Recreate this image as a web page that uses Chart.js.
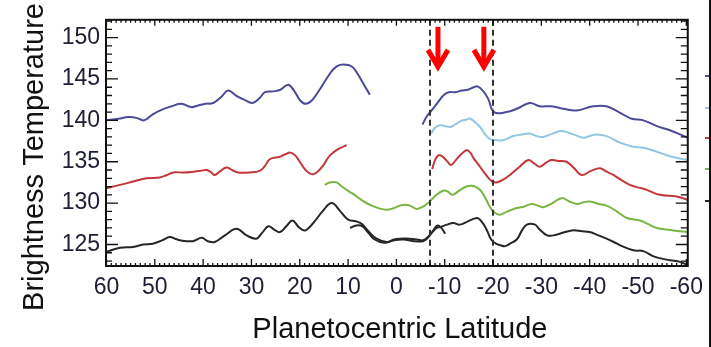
<!DOCTYPE html>
<html><head><meta charset="utf-8">
<script src="https://cdn.jsdelivr.net/npm/chart.js@4/dist/chart.umd.min.js"></script>
<style>html,body{margin:0;padding:0;background:#fff;overflow:hidden}canvas{display:block}</style>
</head><body>
<canvas id="c" width="711" height="347"></canvas>
<script>
// ---- tick labels / axis text ----
const xTickLabels = [60,50,40,30,20,10,0,-10,-20,-30,-40,-50,-60];
const yTickLabels = [125,130,135,140,145,150];
const xTitle = 'Planetocentric Latitude';
const yTitle = 'Brightness Temperature';
const markedLatitudes = [-7,-20];
const arrowLatitudes = [-8.6,-18.1];

// ---- series: [latitude, brightness temperature K] ----
const blueNorth = [[60.1,140.0],[57.5,140.2],[55.5,140.4],[53.8,140.3],[52.2,140.0],[50.5,140.7],[48.5,141.3],[46.5,141.7],[44.5,142.0],[42.5,141.6],[41.0,141.8],[39.5,142.0],[37.9,142.1],[36.3,142.8],[34.8,143.6],[33.2,143.0],[31.5,142.5],[29.8,142.1],[28.3,142.7],[27.2,143.4],[25.5,143.5],[24.0,143.7],[22.4,144.3],[21.2,143.6],[19.9,142.4],[18.8,142.0],[17.5,142.4],[16.0,143.6],[14.5,145.0],[13.0,146.2],[11.7,146.7],[10.0,146.7],[9.0,146.4],[8.0,145.6],[7.0,144.6],[6.0,143.6],[5.5,143.1]];
const blueSouth = [[-5.4,139.5],[-6.3,140.5],[-7.3,141.2],[-8.5,142.1],[-9.7,143.0],[-10.8,143.4],[-12.2,143.4],[-13.5,143.6],[-14.8,143.7],[-16.0,144.0],[-16.8,144.1],[-18.0,143.5],[-19.0,142.6],[-20.2,141.0],[-22.8,141.0],[-24.9,141.4],[-27.6,142.1],[-29.7,141.7],[-32.1,141.7],[-34.5,141.4],[-37.3,141.2],[-40.7,141.7],[-43.5,141.7],[-46.3,140.9],[-48.7,140.2],[-51.1,140.0],[-53.9,139.3],[-56.6,138.8],[-60.3,137.9]];
const lightBlue = [[-7.2,138.4],[-8.0,139.1],[-9.0,139.4],[-10.2,139.3],[-11.1,139.2],[-12.2,139.5],[-13.3,139.9],[-14.5,140.1],[-15.3,140.2],[-16.2,139.8],[-17.3,139.2],[-18.5,138.2],[-19.5,137.7],[-20.7,137.6],[-22.1,137.6],[-24.2,138.1],[-26.0,138.3],[-27.6,138.4],[-29.0,138.1],[-30.4,138.0],[-32.3,138.4],[-34.2,138.7],[-36.6,138.3],[-38.7,137.9],[-40.0,138.1],[-41.4,138.3],[-43.5,138.1],[-46.3,137.3],[-49.0,136.8],[-51.1,136.7],[-53.9,136.2],[-57.0,135.6],[-60.3,135.2]];
const redNorth = [[60.1,131.8],[57.2,132.2],[54.5,132.6],[51.7,133.0],[49.0,133.1],[47.5,133.4],[46.2,133.7],[44.1,133.7],[42.0,133.8],[40.5,133.9],[39.3,134.0],[38.3,133.7],[37.6,133.4],[36.6,133.8],[35.2,134.3],[34.0,134.0],[32.8,133.7],[30.3,133.7],[28.3,133.9],[27.2,134.5],[26.2,135.3],[24.1,135.6],[23.0,135.9],[22.0,136.1],[21.0,135.8],[20.0,135.0],[18.8,134.0],[17.6,133.5],[16.5,133.7],[15.2,134.5],[14.0,135.6],[13.1,136.1],[11.8,136.6],[10.3,137.0]];
const redSouth = [[-7.4,134.1],[-8.0,135.2],[-8.8,135.8],[-9.8,135.5],[-10.6,135.0],[-11.3,134.6],[-12.3,135.2],[-13.4,135.9],[-14.5,136.4],[-15.3,136.1],[-16.0,135.4],[-16.8,134.8],[-17.8,134.0],[-18.7,133.3],[-19.6,132.7],[-20.7,132.5],[-22.0,132.8],[-23.5,133.4],[-25.5,134.4],[-27.3,135.2],[-28.5,134.8],[-29.7,134.4],[-31.0,134.9],[-32.1,135.2],[-33.5,135.1],[-35.2,135.0],[-36.8,134.2],[-38.3,133.4],[-40.3,133.9],[-42.1,134.2],[-43.5,133.8],[-44.9,133.4],[-46.5,132.8],[-48.3,132.2],[-50.0,131.9],[-51.8,131.6],[-54.5,131.0],[-58.0,130.8],[-60.3,130.4]];
const green = [[14.8,132.2],[13.8,132.5],[12.4,132.5],[11.3,132.0],[10.3,131.6],[9.2,131.2],[8.2,130.8],[6.8,130.2],[5.5,129.8],[3.8,129.4],[2.0,129.2],[0.5,129.4],[-0.7,129.7],[-1.8,129.8],[-2.8,129.7],[-4.2,129.3],[-5.6,129.6],[-6.9,130.2],[-8.3,131.0],[-9.7,131.5],[-10.6,131.4],[-11.6,131.0],[-13.0,131.5],[-14.5,132.0],[-15.6,132.1],[-16.6,131.9],[-17.6,131.4],[-18.5,130.5],[-19.4,129.5],[-20.2,128.9],[-21.4,128.6],[-23.0,129.0],[-24.9,129.4],[-26.5,129.6],[-28.0,129.9],[-29.3,129.7],[-30.4,129.5],[-32.3,130.0],[-34.2,130.6],[-35.8,130.2],[-37.3,129.9],[-38.8,130.1],[-40.1,130.2],[-41.8,129.9],[-43.5,129.7],[-45.6,129.0],[-47.7,128.2],[-50.4,127.9],[-52.0,127.5],[-53.9,127.0],[-57.3,126.7],[-60.3,126.5]];
const blackMain = [[60.1,124.1],[57.2,124.6],[54.5,124.7],[52.4,125.0],[50.4,125.1],[48.5,125.5],[46.9,125.9],[45.8,125.7],[44.8,125.5],[42.1,125.4],[40.3,125.8],[39.0,125.4],[37.6,125.3],[35.5,126.1],[33.1,126.9],[31.0,126.1],[29.0,125.7],[27.8,126.4],[26.5,127.2],[25.3,126.8],[24.1,126.5],[22.8,127.2],[21.5,127.9],[20.2,127.1],[18.9,126.7],[17.2,127.6],[15.3,129.0],[13.4,130.0],[11.6,129.0],[10.0,128.0],[8.4,127.8],[7.2,127.5],[5.8,126.6],[4.1,125.7],[2.0,125.3],[0.5,125.6],[-0.7,125.7],[-2.8,125.7],[-4.3,125.6],[-5.5,125.5],[-6.5,125.9],[-7.3,126.4],[-8.3,127.0],[-9.0,127.1],[-10.5,127.4],[-11.8,127.6],[-13.1,127.4],[-14.8,127.8],[-16.6,128.2],[-17.3,128.0],[-18.2,127.3],[-18.9,126.5],[-19.6,125.6],[-20.6,125.1],[-21.6,124.9],[-22.5,124.8],[-23.5,125.1],[-24.9,125.6],[-26.0,126.7],[-27.0,127.4],[-28.7,127.4],[-29.5,126.9],[-31.2,126.1],[-32.5,126.1],[-33.8,126.3],[-36.3,126.7],[-38.5,126.6],[-40.0,126.5],[-41.8,126.1],[-43.5,125.7],[-45.0,125.3],[-46.3,124.9],[-49.0,124.3],[-51.1,124.2],[-53.5,123.5],[-56.6,123.1],[-58.7,122.9],[-60.3,122.5]];
const blackSecond = [[9.6,127.0],[8.3,127.3],[7.0,127.2],[5.8,126.4],[4.5,125.6],[2.5,125.2],[0.5,125.5],[-1.5,125.6],[-3.5,125.4],[-5.5,125.4],[-6.5,125.8],[-7.5,126.6],[-8.5,127.3],[-9.3,127.0],[-10.1,126.3]];

const COLORS = {blue:'#4a4a98', light:'#92c6e2', red:'#c3363a', green:'#79b542', black:'#262626'};
const FONT = '"Liberation Sans", Arial, sans-serif';

function ds(arr, color){
  return {data: arr.map(([x,y])=>({x,y})), borderColor: color, borderWidth: 2,
          pointRadius: 0, fill: false, tension: 0.4};
}

const decor = {
  id: 'decor',
  afterDatasetsDraw(chart){
    const {ctx, chartArea: a, scales: {x, y}} = chart;
    ctx.save();
    ctx.strokeStyle = '#333'; ctx.lineWidth = 2; ctx.setLineDash([6,4]);
    markedLatitudes.forEach(l => {
      const px = Math.round(x.getPixelForValue(l));
      ctx.beginPath(); ctx.moveTo(px, a.top); ctx.lineTo(px, a.bottom); ctx.stroke();
    });
    ctx.setLineDash([]);
    ctx.strokeStyle = '#ff0000'; ctx.lineWidth = 5; ctx.lineJoin = 'miter'; ctx.lineCap = 'butt';
    arrowLatitudes.forEach(l => {
      const px = x.getPixelForValue(l);
      const yTop = y.getPixelForValue(151.3), yTip = y.getPixelForValue(146.1);
      ctx.beginPath(); ctx.moveTo(px, yTop); ctx.lineTo(px, yTip - 4); ctx.stroke();
      ctx.beginPath(); ctx.moveTo(px - 10, yTip - 20); ctx.lineTo(px, yTip - 3); ctx.lineTo(px + 10, yTip - 20); ctx.stroke();
    });
    ctx.strokeStyle = '#111'; ctx.lineWidth = 1.3;
    ctx.beginPath();
    for (let v = -60; v <= 60; v++) {
      const px = x.getPixelForValue(v), major = v % 10 === 0;
      ctx.moveTo(px, a.bottom); ctx.lineTo(px, a.bottom - (major ? 7 : 3));
      ctx.moveTo(px, a.top); ctx.lineTo(px, a.top + (major ? 6 : 3));
    }
    for (let v = 123; v <= 152; v++) {
      const py = y.getPixelForValue(v), major = v % 5 === 0;
      ctx.moveTo(a.left, py); ctx.lineTo(a.left + (major ? 12 : 6), py);
      ctx.moveTo(a.right, py); ctx.lineTo(a.right - (major ? 12 : 7), py);
    }
    ctx.stroke();
    ctx.lineWidth = 2;
    ctx.strokeRect(a.left, a.top, a.right - a.left, a.bottom - a.top);
    ctx.restore();
  },
  afterDraw(chart){
    const {ctx, chartArea: a} = chart;
    ctx.save();
    ctx.fillStyle = '#111';
    ctx.font = '29px ' + FONT;
    ctx.textAlign = 'center'; ctx.textBaseline = 'alphabetic';
    ctx.fillText(xTitle, (a.left + a.right) / 2 + 3, 338);
    ctx.translate(43, 157); ctx.rotate(-Math.PI / 2);
    ctx.fillText(yTitle, 0, 0);
    ctx.restore();
    ctx.save();
    const stubs = [[COLORS.blue,76],[COLORS.light,108],[COLORS.red,138],[COLORS.green,169],[COLORS.black,201]];
    stubs.forEach(([c,py]) => { ctx.fillStyle = c; ctx.fillRect(705, py - 1, 5, 2); });
    ctx.fillStyle = '#111'; ctx.fillRect(709, 0, 2, 347);
    ctx.restore();
  }
};

new Chart(document.getElementById('c'), {
  type: 'line',
  data: { datasets: [
    ds(blueNorth, COLORS.blue), ds(blueSouth, COLORS.blue), ds(lightBlue, COLORS.light),
    ds(redNorth, COLORS.red), ds(redSouth, COLORS.red), ds(green, COLORS.green),
    ds(blackMain, COLORS.black), ds(blackSecond, COLORS.black)
  ]},
  options: {
    responsive: false, devicePixelRatio: 1, animation: false,
    layout: { padding: { left: 0, top: 14, right: 23, bottom: 0 } },
    plugins: { legend: { display: false }, tooltip: { enabled: false } },
    scales: {
      x: {
        type: 'linear', reverse: true, min: -60.3, max: 60.1,
        afterBuildTicks: s => { s.ticks = xTickLabels.map(v => ({value: v})); },
        afterFit: s => { s.height = 81; },
        grid: { display: false, drawTicks: false }, border: { display: false },
        ticks: { font: { family: FONT, size: 23 }, color: '#1d1d35', padding: 8, maxRotation: 0, autoSkip: false, callback: v => String(v) }
      },
      y: {
        type: 'linear', min: 122.4, max: 152.15,
        afterBuildTicks: s => { s.ticks = yTickLabels.map(v => ({value: v})); },
        afterFit: s => { s.width = 106; },
        grid: { display: false, drawTicks: false }, border: { display: false },
        ticks: { font: { family: FONT, size: 23 }, color: '#1d1d35', padding: 6, callback: v => String(v) }
      }
    }
  },
  plugins: [decor]
});
</script>
</body></html>
